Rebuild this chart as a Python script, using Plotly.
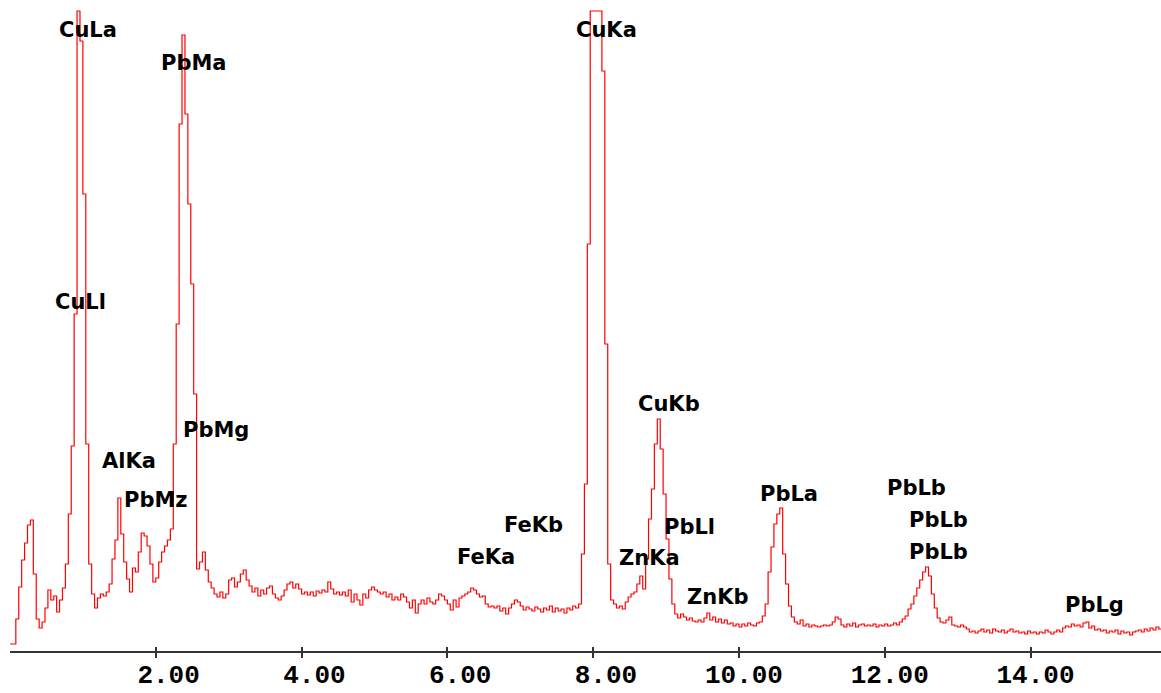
import plotly.graph_objects as go

# EDS spectrum, channel width 0.04 keV starting at 0 keV (counts in arbitrary display units)
channel_width_kev = 0.04
counts = [
    0, 0, 25, 57, 84, 101, 119, 124, 70, 25,
    16, 22, 36, 54, 44, 48, 32, 44, 56, 80,
    130, 198, 330, 633, 603, 450, 200, 80, 50, 36,
    46, 50, 48, 52, 60, 85, 104, 146, 110, 82,
    65, 52, 76, 72, 92, 111, 108, 98, 80, 62,
    66, 82, 92, 98, 104, 115, 200, 320, 520, 609,
    530, 440, 360, 250, 75, 82, 92, 74, 62, 56,
    50, 47, 52, 46, 50, 64, 66, 57, 62, 70,
    74, 64, 58, 52, 56, 48, 54, 50, 56, 58,
    50, 46, 44, 48, 54, 60, 62, 56, 60, 55,
    50, 52, 49, 52, 48, 53, 51, 54, 52, 62,
    55, 50, 52, 49, 52, 48, 54, 42, 50, 44,
    39, 50, 46, 54, 57, 54, 52, 50, 52, 47,
    50, 44, 47, 44, 50, 47, 42, 36, 44, 31,
    40, 44, 40, 46, 42, 40, 44, 50, 48, 44,
    40, 34, 44, 37, 46, 48, 50, 52, 56, 54,
    50, 47, 48, 40, 37, 38, 36, 38, 33, 36,
    30, 36, 40, 44, 42, 38, 34, 37, 35, 33,
    37, 35, 32, 36, 34, 38, 32, 36, 33, 35,
    31, 36, 34, 38, 36, 40, 90, 160, 400, 633,
    633, 633, 633, 573, 300, 80, 44, 40, 36, 38,
    35, 42, 47, 50, 52, 60, 68, 55, 85, 125,
    155, 200, 225, 195, 150, 105, 65, 40, 30, 26,
    30, 27, 24, 26, 23, 22, 24, 22, 26, 31,
    24, 27, 22, 25, 21, 24, 20, 21, 18, 20,
    17, 20, 18, 21, 19, 18, 21, 22, 28, 40,
    72, 97, 120, 130, 136, 90, 60, 38, 27, 22,
    20, 24, 18, 20, 17, 19, 18, 17, 18, 19,
    18, 19, 22, 27, 25, 19, 17, 20, 18, 21,
    17, 19, 20, 18, 19, 18, 20, 17, 19, 18,
    20, 18, 19, 21, 19, 22, 25, 28, 35, 40,
    48, 56, 64, 72, 77, 68, 50, 36, 26, 22,
    21, 24, 27, 19, 18, 17, 19, 17, 15, 12,
    13, 11, 13, 15, 12, 14, 11, 15, 13, 12,
    14, 11, 13, 15, 12, 13, 11, 12, 10, 13,
    11, 12, 10, 12, 11, 14, 12, 10, 12, 14,
    12, 16, 18, 17, 20, 18, 19, 17, 21, 22,
    16, 18, 14, 15, 13, 14, 11, 13, 12, 14,
    10, 13, 11, 12, 9, 12, 13, 14, 12, 15,
    13, 16, 14, 17, 15, 15,
]
energy_kev = [round(i * channel_width_kev, 2) for i in range(len(counts))]

# Peak identification labels
label_text = ["CuLa", "PbMa", "CuLl", "AlKa", "PbMz", "PbMg", "CuKa", "CuKb",
              "FeKb", "FeKa", "ZnKa", "PbLl", "ZnKb", "PbLa", "PbLb", "PbLb",
              "PbLb", "PbLg"]
label_kev = [1.067, 2.519, 0.962, 1.634, 2.004, 2.827, 8.187, 9.038,
             7.176, 6.524, 8.767, 9.316, 9.707, 10.687, 12.430, 12.738,
             12.738, 14.878]
label_counts = [614, 581, 342, 183, 144, 214, 614, 240,
                119, 87, 86, 117, 47, 150, 156, 124,
                92, 39]

tick_vals = [2, 4, 6, 8, 10, 12, 14]
tick_text = ["\u00a02.00", "\u00a04.00", "\u00a06.00", "\u00a08.00", "10.00", "12.00", "14.00"]

x_range = [0, 15.79]
y_range = [-7, 634]
axis_color = "#333333"

fig = go.Figure()
fig.add_trace(go.Scatter(
    x=energy_kev, y=counts, mode="lines",
    line=dict(color="#ff0000", width=1.2, shape="hv"),
    hoverinfo="skip", showlegend=False,
))
# invisible trace on the overlay axis so its inside ticks are drawn
fig.add_trace(go.Scatter(
    x=energy_kev, y=counts, mode="lines", xaxis="x2",
    line=dict(color="rgba(0,0,0,0)", width=0), hoverinfo="skip", showlegend=False,
))

for t, xk, yc in zip(label_text, label_kev, label_counts):
    fig.add_annotation(x=xk, y=yc, text=t, showarrow=False,
                       xanchor="center", yanchor="middle",
                       font=dict(family="DejaVu Sans", size=21, color="#000000", weight="bold"))

fig.update_layout(
    width=1161, height=693,
    margin=dict(l=10, r=0, t=10, b=42, autoexpand=False),
    paper_bgcolor="white", plot_bgcolor="white",
    xaxis=dict(range=x_range, tickvals=tick_vals, ticktext=tick_text,
               automargin=False,
               showgrid=False, zeroline=False,
               showline=True, linecolor=axis_color, linewidth=2,
               ticks="outside", ticklen=5, tickwidth=2, tickcolor=axis_color,
               ticklabelshift=5, ticklabelstandoff=-6,
               tickfont=dict(family="Liberation Mono", size=26, color="#000000", weight="bold")),
    xaxis2=dict(range=x_range, overlaying="x", anchor="y", side="bottom",
                tickvals=tick_vals, showticklabels=False, automargin=False,
                showgrid=False, zeroline=False, showline=False,
                ticks="inside", ticklen=4, tickwidth=2, tickcolor=axis_color),
    yaxis=dict(range=y_range, visible=False, showgrid=False, zeroline=False,
               automargin=False),
)

fig.write_html("out.html")
